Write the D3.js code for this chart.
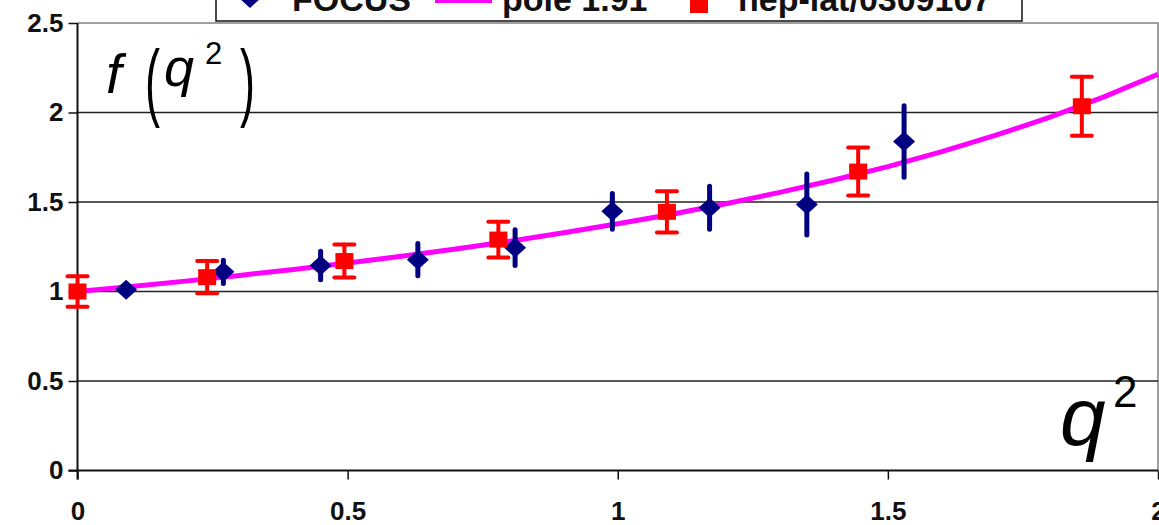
<!DOCTYPE html>
<html>
<head>
<meta charset="utf-8">
<script src="https://cdn.jsdelivr.net/npm/d3@7"></script>
<style>
  html, body { margin: 0; padding: 0; background: #fff; }
  svg { display: block; }
  text { font-family: "Liberation Sans", Arial, sans-serif; }
</style>
</head>
<body>
<svg id="chart" width="1159" height="525"></svg>
<script>
// FOCUS form-factor measurements: q^2, f(q^2), error
const focusQ2  = [0.09, 0.27, 0.45, 0.63, 0.81, 0.99, 1.17, 1.35, 1.53];
const focusF   = [1.01, 1.11, 1.145, 1.178, 1.245, 1.448, 1.468, 1.486, 1.838];
const focusErr = [0.02, 0.065, 0.08, 0.09, 0.1, 0.1, 0.12, 0.17, 0.2];

// Lattice results (hep-lat/0309107)
const latQ2  = [0.0, 0.24, 0.494, 0.779, 1.091, 1.445, 1.859];
const latF   = [1.0, 1.08, 1.17, 1.29, 1.445, 1.67, 2.035];
const latErr = [0.085, 0.09, 0.092, 0.1, 0.115, 0.134, 0.165];

// Pole curve, mass 1.91
const poleQ2 = [0, 0.1, 0.2, 0.3, 0.4, 0.5, 0.6, 0.7, 0.8, 0.9, 1.0,
                1.1, 1.2, 1.3, 1.4, 1.5, 1.6, 1.7, 1.8, 1.9, 2.0];
const poleF  = [1.0, 1.028, 1.058, 1.09, 1.123, 1.159, 1.197, 1.237, 1.281, 1.328, 1.378,
                1.432, 1.49, 1.554, 1.623, 1.698, 1.781, 1.873, 1.974, 2.087, 2.214];

const xTicks = [0, 0.5, 1, 1.5, 2];
const yTicks = [0, 0.5, 1, 1.5, 2, 2.5];
const legendLabels = ["FOCUS", "pole 1.91", "hep-lat/0309107"];

const colors = { focus: "#000080", pole: "#ff00ff", lat: "#ff0000" };

const svg = d3.select("#chart");
const x = d3.scaleLinear().domain([0, 2]).range([77.5, 1158]);
const y = d3.scaleLinear().domain([0, 2.5]).range([470.5, 23]);

// plot-area frame (top and right)
svg.append("path")
  .attr("d", `M${x(0)},${y(2.5)}H${x(2)}V${y(0)}`)
  .attr("fill", "none").attr("stroke", "#808080").attr("stroke-width", 1.5);

// horizontal gridlines
svg.append("g").selectAll("line")
  .data(yTicks.filter(v => v > 0 && v < 2.5))
  .join("line")
  .attr("x1", x(0)).attr("x2", x(2))
  .attr("y1", d => y(d)).attr("y2", d => y(d))
  .attr("stroke", "#222").attr("stroke-width", 1.5);

// axes
const yAxis = d3.axisLeft(y).tickValues(yTicks).tickSize(9).tickPadding(5)
  .tickFormat(d3.format("~g"));
const xAxis = d3.axisBottom(x).tickValues(xTicks).tickSize(9).tickPadding(22)
  .tickFormat(d3.format("~g"));

const gy = svg.append("g").attr("transform", `translate(${x(0)},0)`).call(yAxis);
const gx = svg.append("g").attr("transform", `translate(0,${y(0)})`).call(xAxis);
[gx, gy].forEach(g => {
  g.select(".domain").attr("stroke", "#111").attr("stroke-width", 2);
  g.selectAll(".tick line").attr("stroke", "#111").attr("stroke-width", 1.5);
  g.selectAll(".tick text")
    .attr("fill", "#111")
    .style("font-family", "'Liberation Sans', Arial, sans-serif")
    .style("font-weight", "bold")
    .style("font-size", "26px");
});
gy.select(".domain").attr("d", `M0,${y(2.5)}V${y(0) + 9}`);
gx.select(".domain").attr("d", `M${x(0) - 9},0H${x(2)}`);

// pole curve
const line = d3.line().x((d, i) => x(poleQ2[i])).y(d => y(d));
svg.append("path")
  .datum(poleF)
  .attr("d", line)
  .attr("fill", "none")
  .attr("stroke", colors.pole)
  .attr("stroke-width", 5)
  .attr("stroke-linejoin", "round");

// FOCUS: thick error bars without caps, diamond markers
const focus = focusQ2.map((q, i) => ({ q, f: focusF[i], e: focusErr[i] }));
const gf = svg.append("g");
gf.selectAll("line")
  .data(focus).join("line")
  .attr("x1", d => x(d.q)).attr("x2", d => x(d.q))
  .attr("y1", d => y(d.f + d.e)).attr("y2", d => y(d.f - d.e))
  .attr("stroke", colors.focus).attr("stroke-width", 5).attr("stroke-linecap", "round");
const diamond = "M0,-10L11,0L0,10L-11,0Z";
gf.selectAll("path")
  .data(focus).join("path")
  .attr("d", diamond)
  .attr("transform", d => `translate(${x(d.q)},${y(d.f)})`)
  .attr("fill", colors.focus);

// lattice: capped error bars, square markers
const lat = latQ2.map((q, i) => ({ q, f: latF[i], e: latErr[i] }));
const gl = svg.append("g");
gl.selectAll("line.bar")
  .data(lat).join("line").attr("class", "bar")
  .attr("x1", d => x(d.q)).attr("x2", d => x(d.q))
  .attr("y1", d => y(d.f + d.e)).attr("y2", d => y(d.f - d.e))
  .attr("stroke", colors.lat).attr("stroke-width", 4);
["top", "bot"].forEach(k => {
  gl.selectAll("line.cap-" + k)
    .data(lat).join("line").attr("class", "cap-" + k)
    .attr("x1", d => x(d.q) - 10).attr("x2", d => x(d.q) + 10)
    .attr("y1", d => y(k === "top" ? d.f + d.e : d.f - d.e))
    .attr("y2", d => y(k === "top" ? d.f + d.e : d.f - d.e))
    .attr("stroke", colors.lat).attr("stroke-width", 4).attr("stroke-linecap", "round");
});
gl.selectAll("rect")
  .data(lat).join("rect")
  .attr("x", d => x(d.q) - 9).attr("y", d => y(d.f) - 8)
  .attr("width", 18).attr("height", 16)
  .attr("fill", colors.lat);

// axis titles
const tf = svg.append("g").attr("fill", "#000");
tf.append("text").attr("x", 106).attr("y", 93)
  .style("font-size", "56px").style("font-style", "italic").text("f");
tf.append("text").attr("transform", "translate(145,110) scale(0.55,1.05)")
  .style("font-size", "82px").text("(");
tf.append("text").attr("x", 164).attr("y", 86)
  .style("font-size", "54px").style("font-style", "italic").text("q");
tf.append("text").attr("x", 205).attr("y", 64)
  .style("font-size", "31px").text("2");
tf.append("text").attr("transform", "translate(240,110) scale(0.55,1.05)")
  .style("font-size", "82px").text(")");

svg.append("text").attr("x", 1060).attr("y", 445)
  .style("font-size", "82px").style("font-style", "italic").text("q");
svg.append("text").attr("x", 1113).attr("y", 407)
  .style("font-size", "44px").text("2");

// legend (partly above the top edge)
const lg = svg.append("g");
lg.append("rect").attr("x", 216).attr("y", -40).attr("width", 806).attr("height", 61)
  .attr("fill", "#fff").attr("stroke", "#111").attr("stroke-width", 1.5);
lg.append("path").attr("d", diamond)
  .attr("transform", "translate(250,-3) scale(1.1)").attr("fill", colors.focus);
lg.append("line").attr("x1", 435).attr("x2", 492).attr("y1", 1).attr("y2", 1)
  .attr("stroke", colors.pole).attr("stroke-width", 4);
lg.append("rect").attr("x", 690).attr("y", -5).attr("width", 18).attr("height", 18)
  .attr("fill", colors.lat);
const legendX = [292, 502, 738];
lg.selectAll("text.lab")
  .data(legendLabels).join("text").attr("class", "lab")
  .attr("x", (d, i) => legendX[i]).attr("y", 11)
  .style("font-size", "34px").style("font-weight", "bold").attr("fill", "#111")
  .text(d => d);
</script>
</body>
</html>
